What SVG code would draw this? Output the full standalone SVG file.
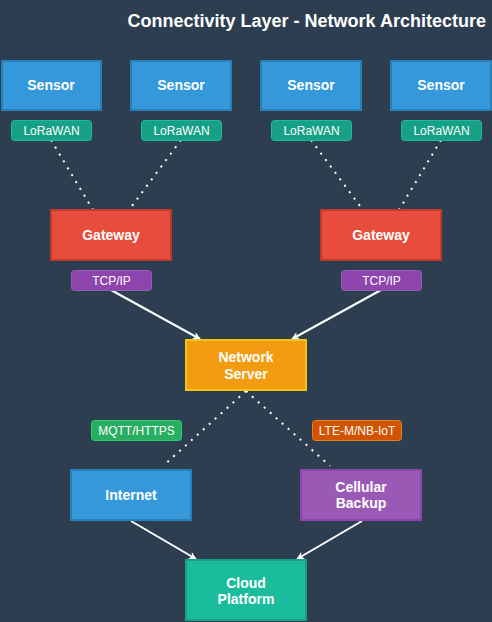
<svg xmlns="http://www.w3.org/2000/svg" width="492" height="622" viewBox="0 0 492 622">
<defs>
<style>
.t{font-family:"Liberation Sans",Arial,sans-serif;fill:#fff;text-anchor:middle}
.n{font-size:14px;font-weight:bold}
.l{font-size:12px}
.dot{stroke:#fff;stroke-width:2;stroke-dasharray:2,6;fill:none}
.arr{stroke:#fff;stroke-width:2;fill:none;marker-end:url(#ah)}
.sensor{fill:#3498db;stroke:#2980b9;stroke-width:2}
.gw{fill:#e74c3c;stroke:#c0392b;stroke-width:2}
.lora{fill:#16a085;stroke:#1abc9c;stroke-width:1}
.tcp{fill:#8e44ad;stroke:#9b59b6;stroke-width:1}
</style>
<marker id="ah" viewBox="0 0 10 10" refX="9" refY="5" markerWidth="8" markerHeight="8" markerUnits="userSpaceOnUse" orient="auto">
<path d="M0,0 L10,5 L0,10 L3,5 z" fill="#fff"/>
</marker>
</defs>
<rect width="492" height="622" fill="#2c3e50"/>
<text class="t" x="486" y="27" style="text-anchor:end;font-size:18px;font-weight:bold">Connectivity Layer - Network Architecture</text>

<g id="connectors">
<line class="dot" x1="51" y1="140" x2="93" y2="210"/>
<line class="dot" x1="181" y1="140" x2="129" y2="210"/>
<line class="dot" x1="311" y1="140" x2="363" y2="210"/>
<line class="dot" x1="441" y1="140" x2="399" y2="210"/>
<line class="arr" x1="111" y1="290" x2="200" y2="339"/>
<line class="arr" x1="381" y1="290" x2="292" y2="339"/>
<line class="dot" x1="246" y1="391" x2="163" y2="466"/>
<line class="dot" x1="246" y1="391" x2="330" y2="466"/>
<line class="arr" x1="131" y1="521" x2="196" y2="559"/>
<line class="arr" x1="362" y1="521" x2="297" y2="559"/>
</g>

<g id="sensor1"><rect class="sensor" x="2" y="61" width="99" height="49"/><text class="t n" x="51" y="90">Sensor</text></g>
<g id="sensor2"><rect class="sensor" x="131" y="61" width="100" height="49"/><text class="t n" x="181" y="90">Sensor</text></g>
<g id="sensor3"><rect class="sensor" x="261" y="61" width="100" height="49"/><text class="t n" x="311" y="90">Sensor</text></g>
<g id="sensor4"><rect class="sensor" x="391" y="61" width="100" height="49"/><text class="t n" x="441" y="90">Sensor</text></g>

<g id="lora1"><rect class="lora" x="11.5" y="120.5" width="80" height="20" rx="3"/><text class="t l" x="51.5" y="134.5">LoRaWAN</text></g>
<g id="lora2"><rect class="lora" x="141.5" y="120.5" width="80" height="20" rx="3"/><text class="t l" x="181.5" y="134.5">LoRaWAN</text></g>
<g id="lora3"><rect class="lora" x="271.5" y="120.5" width="80" height="20" rx="3"/><text class="t l" x="311.5" y="134.5">LoRaWAN</text></g>
<g id="lora4"><rect class="lora" x="401.5" y="120.5" width="80" height="20" rx="3"/><text class="t l" x="441.5" y="134.5">LoRaWAN</text></g>

<g id="gateway1"><rect class="gw" x="51" y="210" width="120" height="50"/><text class="t n" x="111" y="240">Gateway</text></g>
<g id="gateway2"><rect class="gw" x="321" y="210" width="120" height="50"/><text class="t n" x="381" y="240">Gateway</text></g>

<g id="tcp1"><rect class="tcp" x="71.5" y="270.5" width="80" height="20" rx="3"/><text class="t l" x="111.5" y="284.5">TCP/IP</text></g>
<g id="tcp2"><rect class="tcp" x="341.5" y="270.5" width="80" height="20" rx="3"/><text class="t l" x="381.5" y="284.5">TCP/IP</text></g>

<g id="network-server"><rect x="186" y="340" width="120" height="50" fill="#f39c12" stroke="#f1c40f" stroke-width="2"/><text class="t n" x="246" y="362">Network</text><text class="t n" x="246" y="379">Server</text></g>

<g id="mqtt"><rect x="91.5" y="420.5" width="90" height="20" rx="3" fill="#27ae60" stroke="#2ecc71"/><text class="t l" x="136.5" y="434.5">MQTT/HTTPS</text></g>
<g id="lte"><rect x="312.5" y="420.5" width="89" height="20" rx="3" fill="#d35400" stroke="#e67e22"/><text class="t l" x="357" y="434.5">LTE-M/NB-IoT</text></g>

<g id="internet"><rect x="71" y="470" width="120" height="50" fill="#3498db" stroke="#2980b9" stroke-width="2"/><text class="t n" x="131" y="500">Internet</text></g>
<g id="cellular"><rect x="301" y="470" width="120" height="50" fill="#9b59b6" stroke="#8e44ad" stroke-width="2"/><text class="t n" x="361" y="492">Cellular</text><text class="t n" x="361" y="508">Backup</text></g>

<g id="cloud"><rect x="186" y="560" width="120" height="60" fill="#1abc9c" stroke="#16a085" stroke-width="2"/><text class="t n" x="246" y="588">Cloud</text><text class="t n" x="246" y="604">Platform</text></g>
</svg>
